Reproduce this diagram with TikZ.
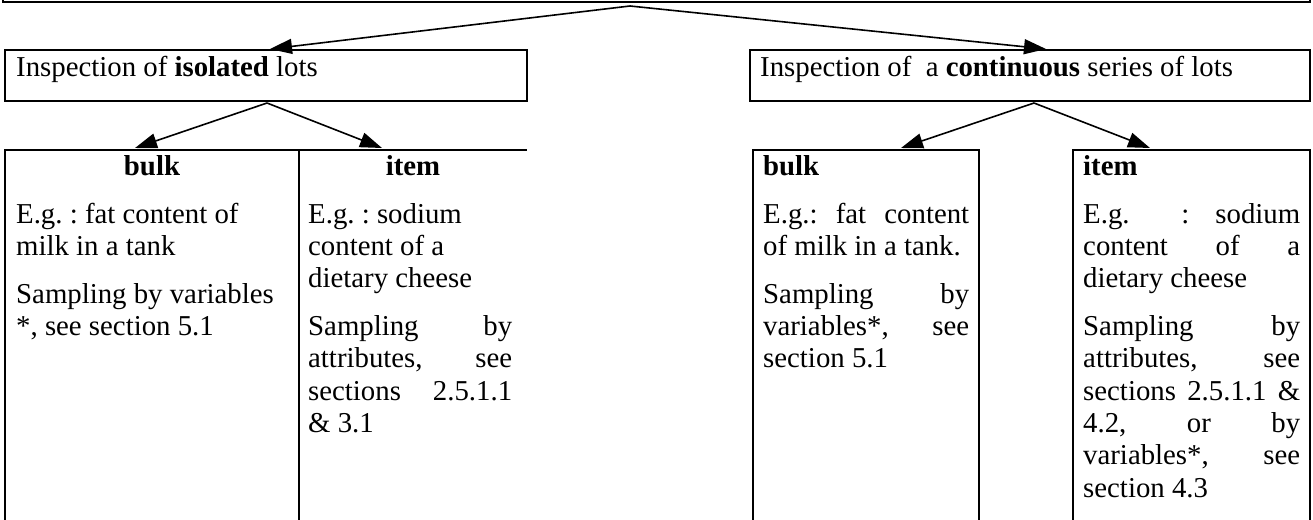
\documentclass[tikz,border=0pt]{standalone}
\usepackage{fontspec}
\setmainfont{Liberation Serif}
\usetikzlibrary{arrows.meta}
\frenchspacing
\hbadness=10000
\tolerance=10000
\begin{document}
\begin{tikzpicture}[x=1pt,y=-1pt,
  frame/.style={line width=1.9pt},
  conn/.style={line width=1.6pt,-{Triangle[length=22pt,width=15pt]}},
  txt/.style={inner sep=0pt,anchor=base west,font=\fontsize{28.8}{32.3}\selectfont},
  head/.style={inner sep=0pt,font=\fontsize{28.8}{32.3}\selectfont\bfseries}
  ]
\useasboundingbox (0,0) rectangle (1313,519);
\clip (0,0) rectangle (1313,519);

% top (cropped) box
\draw[frame] (3,-20) -- (3,1.8) -- (1310,1.8) -- (1310,-20);

% second-level boxes
\draw[frame] (5,50) rectangle (527,101);
\draw[frame] (750,50) rectangle (1310,101);
\node[txt] (iso) at (16,77) {Inspection of \textbf{isolated} lots};
\node[txt] (cont) at (760,77) {Inspection of\ \ a \textbf{continuous} series of lots};

% connectors from top
\coordinate (apex0) at (630,6);
\coordinate (isoTop) at (270,49);
\coordinate (contTop) at (1046,49);
\draw[conn] (apex0) -- (isoTop);
\draw[conn] (apex0) -- (contTop);

% left table
\draw[frame] (5,540) -- (5,150) -- (527,150);
\draw[frame] (299,150) -- (299,540);
\coordinate (apexL) at (267,103);
\coordinate (bulkLTop) at (135,148);
\coordinate (itemLTop) at (382,148);
\draw[conn] (apexL) -- (bulkLTop);
\draw[conn] (apexL) -- (itemLTop);

\node[head,anchor=base] (bulkLh) at (152,175) {bulk};
\node[head,anchor=base] (itemLh) at (413,175) {item};

\node[txt] (bulkL) at (16,223) {\begin{minipage}[t]{280pt}\raggedright\setlength{\parskip}{15.7pt}%
E.g. : fat content of\\ milk in a tank\par
Sampling by variables\\{}*, see section 5.1\end{minipage}};

\node[txt] (itemL) at (308,223) {\begin{minipage}[t]{204pt}\setlength{\parskip}{15.7pt}\setlength{\parindent}{0pt}%
E.g. : sodium\\ content of a\\ dietary cheese\par
Sampling by\linebreak attributes, see\linebreak sections 2.5.1.1\linebreak \& 3.1\end{minipage}};

% right tables
\draw[frame] (753,540) -- (753,150) -- (979,150) -- (979,540);
\draw[frame] (1073,540) -- (1073,150) -- (1310,150) -- (1310,540);
\coordinate (apexR) at (1034,103);
\coordinate (bulkRTop) at (901,148);
\coordinate (itemRTop) at (1150,148);
\draw[conn] (apexR) -- (bulkRTop);
\draw[conn] (apexR) -- (itemRTop);

\node[head,anchor=base west] (bulkRh) at (763,175) {bulk};
\node[head,anchor=base west] (itemRh) at (1083,175) {item};

\node[txt] (bulkR) at (763,223) {\begin{minipage}[t]{206pt}\setlength{\parskip}{15.7pt}\setlength{\parindent}{0pt}%
E.g.: fat content\linebreak of milk in a tank.\par
Sampling by\linebreak variables*, see\linebreak section 5.1\end{minipage}};

\node[txt] (itemR) at (1083,223) {\begin{minipage}[t]{217pt}\setlength{\parskip}{15.7pt}\setlength{\parindent}{0pt}%
E.g.\ \ : sodium\linebreak content of a\linebreak dietary cheese\par
Sampling by\linebreak attributes, see\linebreak sections 2.5.1.1 \&\linebreak 4.2, or by\linebreak variables*, see\linebreak section 4.3\end{minipage}};
\end{tikzpicture}
\end{document}
